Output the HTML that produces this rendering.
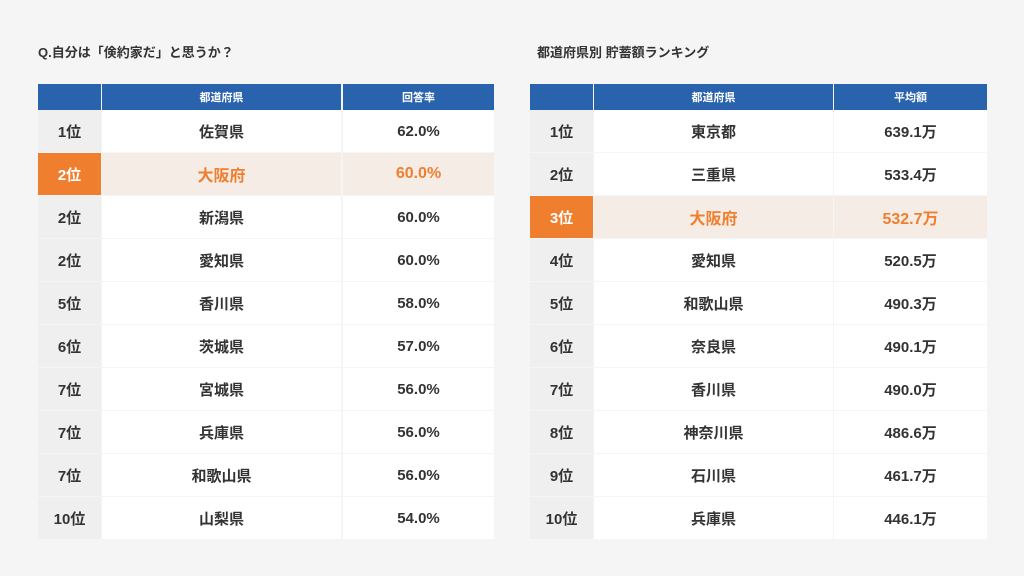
<!DOCTYPE html>
<html><head><meta charset="utf-8"><style>
body{margin:0;width:1024px;height:576px;background:#f5f5f5;font-family:"Liberation Sans","Noto Sans CJK JP",sans-serif;position:relative;overflow:hidden;color:#333}
.t{position:absolute;top:42px;font-size:13px;font-weight:bold;color:#333}
.c{position:absolute;display:flex;align-items:center;justify-content:center;font-weight:bold;box-sizing:border-box}
.h{background:#2a63ad;color:#fff;font-size:11px;height:26px;top:84px}
</style></head><body>
<div class="t" style="left:38px">Q.自分は「倹約家だ」と思うか？</div>
<div class="t" style="left:537px">都道府県別 貯蓄額ランキング</div>
<div id="L"></div>
<script>
function tbl(x,w,hdr,rows,hl){
 let s='';
 for(let j=0;j<3;j++) s+=`<div class="c h" style="left:${x[j]}px;width:${w[j]}px">${hdr[j]}</div>`;
 rows.forEach((r,i)=>{
  let y=110+i*43,h=i==hl;
  for(let j=0;j<3;j++){
   let bg=j==0?(h?'#ef7f2e':'#efefef'):(h?'#f6ece6':'#fff');
   let col=j==0?(h?'#fff':'#333'):(h?'#ef7f2e':'#333');
   let fs=h&&j>0?16:15;
   s+=`<div class="c" style="left:${x[j]}px;width:${w[j]}px;top:${y}px;height:42px;background:${bg};color:${col};font-size:${fs}px">${r[j]}</div>`;
  }
 });
 return s;
}
let a=[['1位','佐賀県','62.0%'],['2位','大阪府','60.0%'],['2位','新潟県','60.0%'],['2位','愛知県','60.0%'],['5位','香川県','58.0%'],['6位','茨城県','57.0%'],['7位','宮城県','56.0%'],['7位','兵庫県','56.0%'],['7位','和歌山県','56.0%'],['10位','山梨県','54.0%']];
let b=[['1位','東京都','639.1万'],['2位','三重県','533.4万'],['3位','大阪府','532.7万'],['4位','愛知県','520.5万'],['5位','和歌山県','490.3万'],['6位','奈良県','490.1万'],['7位','香川県','490.0万'],['8位','神奈川県','486.6万'],['9位','石川県','461.7万'],['10位','兵庫県','446.1万']];
document.getElementById('L').innerHTML=
 tbl([38,102,343],[63,239,151],['','都道府県','回答率'],a,1)+
 tbl([530,594,834],[63,239,153],['','都道府県','平均額'],b,2);
</script>
</body></html>
